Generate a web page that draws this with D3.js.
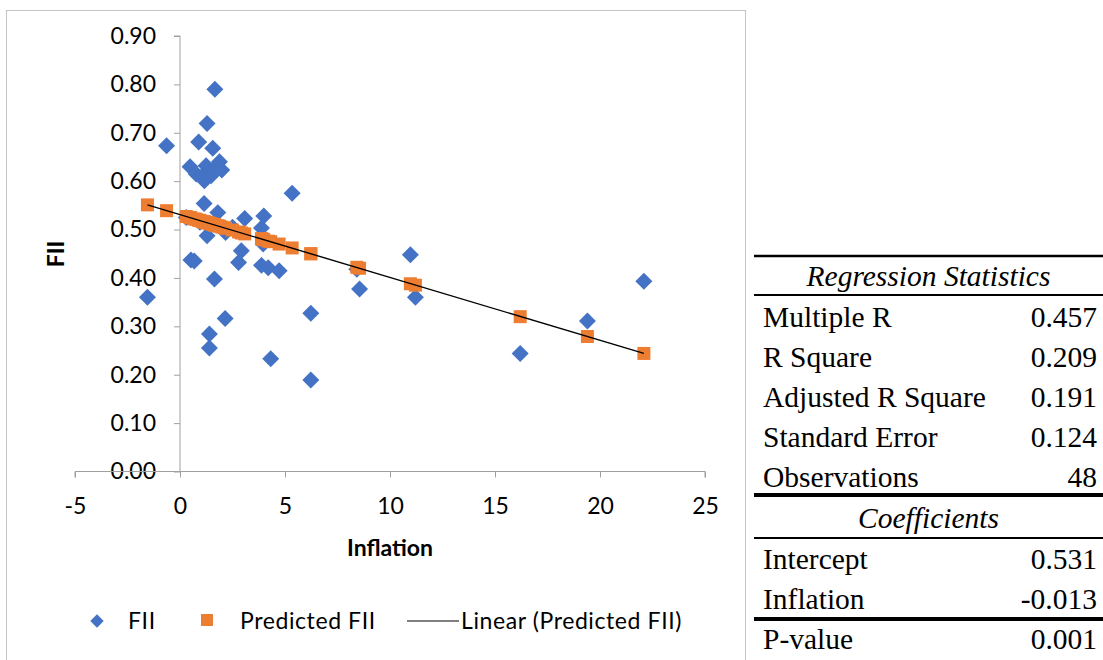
<!DOCTYPE html>
<html>
<head>
<meta charset="utf-8">
<script src="https://cdn.jsdelivr.net/npm/d3@7"></script>
<style>
  body { margin: 0; background: #fff; }
  svg { display: block; }
</style>
</head>
<body>
<script>
// values
const inflation = [-1.55, -0.64, 0.30, 0.48, 0.52, 0.68, 0.77, 0.89, 0.95, 1.05, 1.15, 1.16,
  1.24, 1.29, 1.29, 1.40, 1.40, 1.48, 1.56, 1.60, 1.64, 1.66, 1.80, 1.88, 1.99, 2.15, 2.17,
  2.79, 2.92, 3.08, 3.88, 3.88, 3.96, 3.99, 4.20, 4.32, 4.72, 5.34, 6.23, 6.23, 8.42, 8.55,
  10.97, 11.21, 16.20, 19.40, 22.09, 2.50];
const fii = [0.360, 0.673, 0.525, 0.630, 0.437, 0.435, 0.615, 0.681, 0.515, 0.610, 0.554, 0.601,
  0.632, 0.719, 0.487, 0.284, 0.255, 0.611, 0.668, 0.625, 0.398, 0.790, 0.535, 0.640, 0.623, 0.316, 0.494,
  0.432, 0.456, 0.523, 0.503, 0.426, 0.470, 0.528, 0.421, 0.233, 0.415, 0.575, 0.327, 0.189, 0.418, 0.377,
  0.448, 0.360, 0.244, 0.311, 0.393, 0.505];
const predictedFii = [0.551, 0.539, 0.527, 0.525, 0.524, 0.522, 0.521, 0.519, 0.519, 0.517, 0.516, 0.516,
  0.515, 0.514, 0.514, 0.513, 0.513, 0.512, 0.511, 0.510, 0.510, 0.509, 0.508, 0.507, 0.505, 0.503, 0.503,
  0.495, 0.493, 0.491, 0.481, 0.481, 0.480, 0.479, 0.476, 0.475, 0.470, 0.462, 0.450, 0.450, 0.422, 0.420,
  0.388, 0.385, 0.320, 0.279, 0.244, 0.499];

const xTicks = [-5, 0, 5, 10, 15, 20, 25];
const yTicks = [0, 0.1, 0.2, 0.3, 0.4, 0.5, 0.6, 0.7, 0.8, 0.9];

const statLabels = ['Multiple R', 'R Square', 'Adjusted R Square', 'Standard Error', 'Observations'];
const statValues = ['0.457', '0.209', '0.191', '0.124', '48'];
const coefLabels = ['Intercept', 'Inflation'];
const coefValues = ['0.531', '-0.013'];
const pLabel = 'P-value';
const pValue = '0.001';

const width = 1103;
const height = 660;
const blue = '#4472C4';
const orange = '#ED7D31';
const axisGrey = '#a0a0a0';
const sans = 'Lato, "Open Sans", sans-serif';
const serif = '"Liberation Serif", "DejaVu Serif", serif';

const svg = d3.select('body').append('svg')
  .attr('width', width)
  .attr('height', height);

// chart frame
svg.append('rect')
  .attr('x', 6.5).attr('y', 10.5)
  .attr('width', 739).attr('height', 700)
  .attr('fill', 'none')
  .attr('stroke', '#c4c4c4');

const x = d3.scaleLinear().domain([-5, 25]).range([75, 705]);
const y = d3.scaleLinear().domain([0, 0.9]).range([471.5, 36]);

// y axis, on x = 0
const yAxis = svg.append('g')
  .attr('transform', `translate(${x(0)},0)`)
  .call(d3.axisLeft(y).tickValues(yTicks).tickFormat(d3.format('.2f')).tickSize(6).tickPadding(18));
yAxis.select('.domain').attr('stroke', axisGrey).attr('d', `M-6,${y(0.9)}H0V${y(0)}`);
yAxis.selectAll('.tick line').attr('stroke', axisGrey);
yAxis.selectAll('.tick text')
  .attr('font-family', sans).attr('font-size', 23).attr('fill', '#000');

// x axis, on y = 0 (plain hyphen for negatives, as in the original)
const xAxis = svg.append('g')
  .attr('transform', `translate(0,${y(0)})`)
  .call(d3.axisBottom(x).tickValues(xTicks).tickFormat((d) => String(d)).tickSize(6).tickPadding(20));
xAxis.select('.domain').attr('stroke', axisGrey).attr('d', `M${x(-5)},6V0H${x(25)}V6`);
xAxis.selectAll('.tick line').attr('stroke', axisGrey);
xAxis.selectAll('.tick text')
  .attr('font-family', sans).attr('font-size', 23).attr('fill', '#000');
// x axis is drawn over the y tick labels, like in the original
xAxis.raise();

// axis titles
svg.append('text')
  .attr('x', 390).attr('y', 556)
  .attr('text-anchor', 'middle')
  .attr('font-family', sans).attr('font-size', 23).attr('font-weight', 700)
  .text('Inflation');
svg.append('text')
  .attr('transform', 'translate(64,254) rotate(-90)')
  .attr('text-anchor', 'middle')
  .attr('font-family', sans).attr('font-size', 23).attr('font-weight', 700)
  .text('FII');

const points = inflation.map((v, i) => ({ x: v, fii: fii[i], pred: predictedFii[i] }));

const diamond = d3.symbol().type(d3.symbolSquare).size(144);
const square = d3.symbol().type(d3.symbolSquare).size(169);

svg.append('g').selectAll('path')
  .data(points)
  .join('path')
  .attr('d', diamond)
  .attr('transform', (d) => `translate(${x(d.x)},${y(d.fii)}) rotate(45)`)
  .attr('fill', blue);

svg.append('g').selectAll('path')
  .data(points)
  .join('path')
  .attr('d', square)
  .attr('transform', (d) => `translate(${x(d.x)},${y(d.pred)})`)
  .attr('fill', orange);

// linear trendline of predicted FII
const sorted = points.slice().sort((a, b) => a.x - b.x);
const ends = [sorted[0], sorted[sorted.length - 1]];
svg.append('path')
  .datum(ends)
  .attr('d', d3.line().x((d) => x(d.x)).y((d) => y(d.pred)))
  .attr('fill', 'none')
  .attr('stroke', '#000')
  .attr('stroke-width', 1.4);

// legend
const legend = svg.append('g')
  .attr('font-family', sans).attr('font-size', 23).attr('letter-spacing', 0.6);
legend.append('path')
  .attr('d', d3.symbol().type(d3.symbolSquare).size(90))
  .attr('transform', 'translate(97,621) rotate(45)')
  .attr('fill', blue);
legend.append('text').attr('x', 128).attr('y', 629).text('FII');
legend.append('path')
  .attr('d', d3.symbol().type(d3.symbolSquare).size(144))
  .attr('transform', 'translate(207,620)')
  .attr('fill', orange);
legend.append('text').attr('x', 240).attr('y', 629).text('Predicted FII');
legend.append('line')
  .attr('x1', 407).attr('x2', 459).attr('y1', 621).attr('y2', 621)
  .attr('stroke', '#000').attr('stroke-width', 1.2);
legend.append('text').attr('x', 461).attr('y', 629).text('Linear (Predicted FII)');

// regression table
const tLeft = 754;
const tRight = 1103;
const table = svg.append('g');

const rule = (yy, w) => table.append('line')
  .attr('x1', tLeft).attr('x2', tRight).attr('y1', yy).attr('y2', yy)
  .attr('stroke', '#000').attr('stroke-width', w);

rule(256, 2.5);
rule(295, 2);
rule(495, 4);
rule(538, 2);
rule(619, 4);

const serifText = (sel) => sel
  .attr('font-family', serif)
  .attr('font-size', 29.5)
  .attr('fill', '#000');

table.append('text')
  .call(serifText)
  .attr('x', (tLeft + tRight) / 2).attr('y', 286)
  .attr('text-anchor', 'middle').attr('font-style', 'italic')
  .text('Regression Statistics');
table.append('text')
  .call(serifText)
  .attr('x', (tLeft + tRight) / 2).attr('y', 528)
  .attr('text-anchor', 'middle').attr('font-style', 'italic')
  .text('Coefficients');

const rows = statLabels.map((l, i) => ({ label: l, value: statValues[i], y: 327 + i * 40 }))
  .concat(coefLabels.map((l, i) => ({ label: l, value: coefValues[i], y: 569 + i * 40 })))
  .concat([{ label: pLabel, value: pValue, y: 649 }]);

table.selectAll('text.lab')
  .data(rows)
  .join('text')
  .attr('class', 'lab')
  .call(serifText)
  .attr('x', 763).attr('y', (d) => d.y)
  .text((d) => d.label);
table.selectAll('text.val')
  .data(rows)
  .join('text')
  .attr('class', 'val')
  .call(serifText)
  .attr('x', 1097).attr('y', (d) => d.y)
  .attr('text-anchor', 'end')
  .text((d) => d.value);
</script>
</body>
</html>
